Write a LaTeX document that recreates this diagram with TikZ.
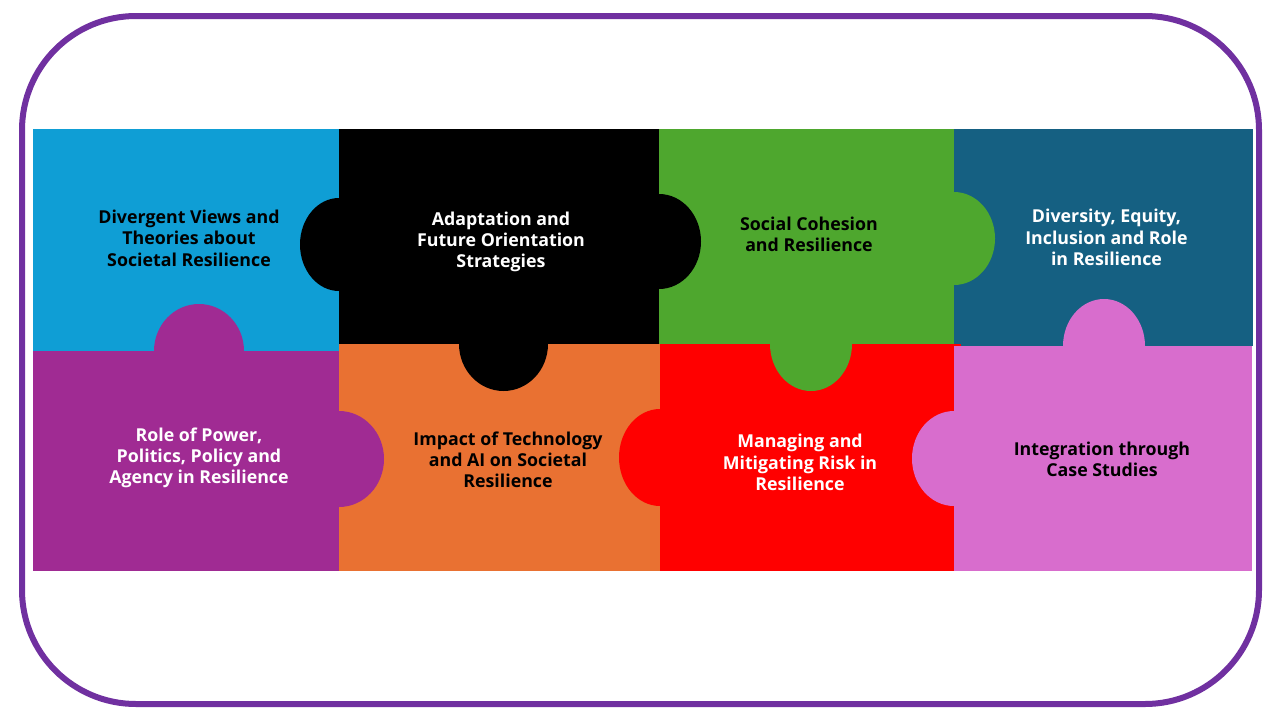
\documentclass[tikz,border=0pt]{standalone}
\usepackage{fontspec}
\setmainfont{Open Sans}
\definecolor{frame}{HTML}{7030A0}
\definecolor{tileblue}{HTML}{0F9ED5}
\definecolor{tilegreen}{HTML}{4EA72E}
\definecolor{tileteal}{HTML}{156082}
\definecolor{tilepurple}{HTML}{A02B93}
\definecolor{tileorange}{HTML}{E97132}
\definecolor{tilepink}{HTML}{D86DCD}
\tikzset{
  tiletext/.style={align=center,inner sep=0pt,font=\fontsize{25.3}{30.3}\selectfont\bfseries},
}

\begin{document}
\begin{tikzpicture}[x=0.05cm,y=-0.05cm]
        \useasboundingbox (0,0) rectangle (1280,720);
        \draw[frame,line width=0.3cm,rounded corners=5.7cm] (22,16) rectangle (1259,704);

        % the eight tiles
        \foreach \xa/\ya/\xb/\yb/\col in {33/129/339/351/tileblue, 339/129/659/344/black,
            659/129/954/344/tilegreen, 954/129/1253/346/tileteal, 33/351/339/571/tilepurple,
            339/344/660/571/tileorange, 660/344/954/571/red, 954/346/1252/571/tilepink}
          \fill[\col] (\xa,\ya) rectangle (\xb,\yb);
        \fill[red] (954,344) rectangle (961,346);

        % the tabs go over the tiles
        \foreach \cx/\cy/\rx/\ry/\col in {339/244.5/39/46.5/black, 659/241.5/42/47.5/black,
            503.5/344/44.5/47/black, 954/238.5/41/46.5/tilegreen, 811/344/41/47/tilegreen,
            199/351/45/47/tilepurple, 339/459/45/48/tilepurple, 660/457.5/41/48.5/red,
            1104/346/41/47/tilepink, 954/458.5/42/47.5/tilepink}
          \fill[\col] (\cx,\cy) ellipse [x radius=\rx,y radius=\ry];

        \node[tiletext,text=black] (divergent) at (189,238.3) {Divergent Views and\\Theories about\\Societal Resilience};
        \node[tiletext,text=white] (adaptation) at (501,241.8) {Adaptation and\\Future Orientation\\Strategies};
        \node[tiletext,text=black] (cohesion) at (809,234) {Social Cohesion\\and Resilience};
        \node[tiletext,text=white] (diversity) at (1106.5,237.5) {Diversity, Equity,\\Inclusion and Role\\in Resilience};
        \node[tiletext,text=white] (power) at (199,457.7) {Role of Power,\\Politics, Policy and\\Agency in Resilience};
        \node[tiletext,text=black] (technology) at (508,459.7) {Impact of Technology\\and AI on Societal\\Resilience};
        \node[tiletext,text=white] (risk) at (800,462.5) {Managing and\\Mitigating Risk in\\Resilience};
        \node[tiletext,text=black] (cases) at (1102,459) {Integration through\\Case Studies};
\end{tikzpicture}
\end{document}
